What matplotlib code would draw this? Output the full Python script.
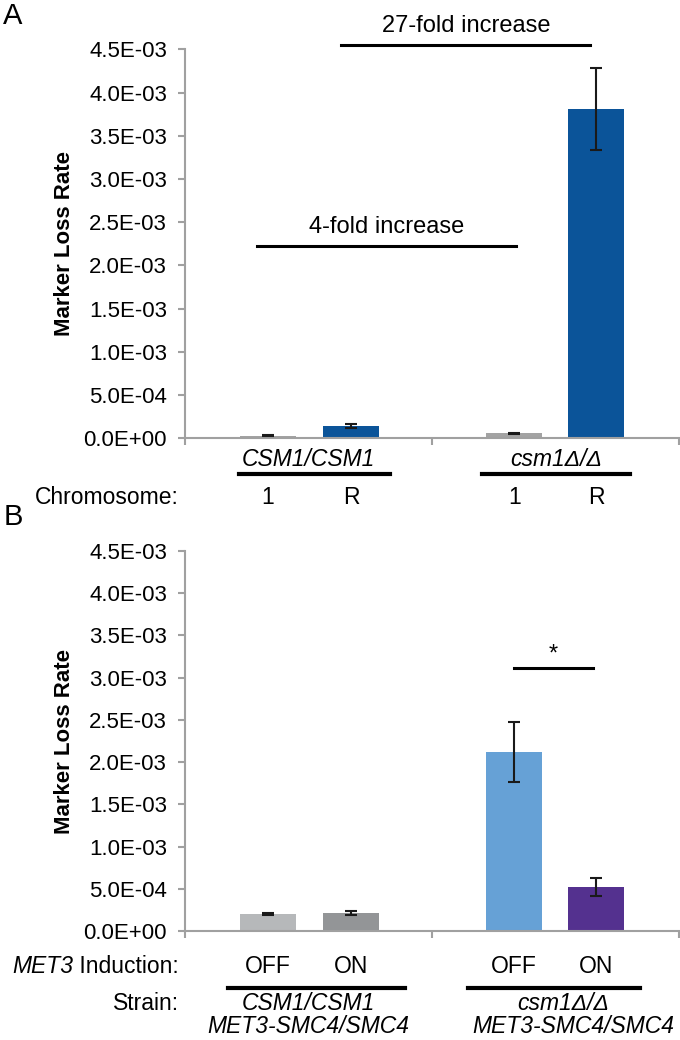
import matplotlib
matplotlib.use("Agg")
import matplotlib.pyplot as plt
from matplotlib.ticker import FuncFormatter
import matplotlib.transforms as mtransforms
from matplotlib import font_manager

plt.rcParams['font.family'] = ['Liberation Sans', 'DejaVu Sans']

# narrow face for the labels under the axes, if present
names = {f.name for f in font_manager.fontManager.ttflist}
narrow = 'Liberation Sans Narrow' if 'Liberation Sans Narrow' in names else 'Liberation Sans'
nsize = 19 if narrow == 'Liberation Sans Narrow' else 16.5

# panel A data
a_groups = ["CSM1/CSM1", "csm1\u0394/\u0394"]
a_labels = ["1", "R", "1", "R"]
a_values = [3.0e-5, 1.45e-4, 5.8e-5, 3.81e-3]
a_errors = [0.5e-5, 2.5e-5, 0.5e-5, 4.7e-4]
a_colors = ["#a3a3a3", "#0b5499", "#a3a3a3", "#0b5499"]

# panel B data
b_groups = ["CSM1/CSM1", "csm1\u0394/\u0394"]
b_labels = ["OFF", "ON", "OFF", "ON"]
b_values = [2.02e-4, 2.12e-4, 2.12e-3, 5.2e-4]
b_errors = [1.2e-5, 2.5e-5, 3.55e-4, 1.05e-4]
b_colors = ["#b6b8ba", "#939597", "#66a1d6", "#54318f"]

yticks = [0, 5e-4, 1e-3, 1.5e-3, 2e-3, 2.5e-3, 3e-3, 3.5e-3, 4e-3, 4.5e-3]
# bar positions: two bars per group, at 1/3 and 2/3 of each group
xpos = [0.336, 0.672, 1.332, 1.664]
barw = 0.227

axis_grey = "#a0a0a0"

fig = plt.figure(figsize=(6.8, 10.4), dpi=100)
ax_a = fig.add_axes([0.272, 0.5786, 0.727, 0.374])
ax_b = fig.add_axes([0.272, 0.1048, 0.727, 0.3654])


def style_axes(ax):
    ax.set_xlim(0, 2)
    ax.set_ylim(0, 4.5e-3)
    ax.set_yticks(yticks)
    ax.yaxis.set_major_formatter(FuncFormatter(lambda v, p: f"{v:.1E}"))
    ax.set_xticks([0, 1, 2])
    ax.set_xticklabels([])
    for s in ["top", "right"]:
        ax.spines[s].set_visible(False)
    for s in ["left", "bottom"]:
        ax.spines[s].set_color(axis_grey)
        ax.spines[s].set_linewidth(1.5)
    ax.tick_params(axis="both", direction="out", length=5, width=1.5,
                   color=axis_grey, labelsize=16, pad=8)
    ax.set_ylabel("Marker Loss Rate", fontsize=16, fontweight="bold", labelpad=6)


def label(ax, x, y, s, tr, italic=False, ha="center"):
    return ax.text(x, y, s, transform=tr, ha=ha, va="center", fontsize=nsize,
                   family=[narrow, 'DejaVu Sans'],
                   style="italic" if italic else "normal", clip_on=False)


# ---- panel A ----
style_axes(ax_a)
ax_a.bar(xpos, a_values, width=barw, color=a_colors, zorder=2)
ax_a.errorbar(xpos, a_values, yerr=a_errors, fmt="none", ecolor="#1a1a1a",
              elinewidth=1.5, capsize=4.5, capthick=1.5, zorder=3)

ax_a.plot([0.63, 1.64], [4.545e-3, 4.545e-3], color="black", lw=2.2, clip_on=False)
ax_a.text(1.14, 4.64e-3, "27-fold increase", ha="center", va="bottom", fontsize=17)
ax_a.plot([0.29, 1.34], [2.23e-3, 2.23e-3], color="black", lw=2.2)
ax_a.text(0.815, 2.32e-3, "4-fold increase", ha="center", va="bottom", fontsize=17)

tr_a = mtransforms.blended_transform_factory(ax_a.transData, ax_a.transAxes)
label(ax_a, 0.5, -0.055, a_groups[0], tr_a, italic=True)
label(ax_a, 1.5, -0.055, a_groups[1], tr_a, italic=True)
for x0, x1 in [(0.22, 0.83), (1.2, 1.8)]:
    ax_a.plot([x0, x1], [-0.092, -0.092], transform=tr_a, color="black",
              lw=3, clip_on=False)
for x, lab in zip(xpos, a_labels):
    label(ax_a, x, -0.152, lab, tr_a)
label(ax_a, -0.012, -0.152, "Chromosome:", ax_a.transAxes, ha="right")

# ---- panel B ----
style_axes(ax_b)
ax_b.bar(xpos, b_values, width=barw, color=b_colors, zorder=2)
ax_b.errorbar(xpos, b_values, yerr=b_errors, fmt="none", ecolor="#1a1a1a",
              elinewidth=1.5, capsize=4.5, capthick=1.5, zorder=3)

ax_b.plot([1.33, 1.65], [3.11e-3, 3.11e-3], color="black", lw=2.2)
ax_b.text(1.49, 3.14e-3, "*", ha="center", va="bottom", fontsize=17)

tr_b = mtransforms.blended_transform_factory(ax_b.transData, ax_b.transAxes)
for x, lab in zip(xpos, b_labels):
    label(ax_b, x, -0.094, lab, tr_b)
ind = label(ax_b, -0.012, -0.094, " Induction:", ax_b.transAxes, ha="right")
ax_b.annotate("MET3", xy=(0, 0.5), xycoords=ind, ha="right", va="center",
              fontsize=nsize, family=[narrow, 'DejaVu Sans'], style="italic")
for x0, x1 in [(0.174, 0.89), (1.146, 1.842)]:
    ax_b.plot([x0, x1], [-0.15, -0.15], transform=tr_b, color="black",
              lw=3, clip_on=False)
label(ax_b, -0.012, -0.191, "Strain:", ax_b.transAxes, ha="right")
label(ax_b, 0.5, -0.191, b_groups[0], tr_b, italic=True)
label(ax_b, 1.53, -0.191, b_groups[1], tr_b, italic=True)
label(ax_b, 0.5, -0.252, "MET3-SMC4/SMC4", tr_b, italic=True)
label(ax_b, 1.57, -0.252, "MET3-SMC4/SMC4", tr_b, italic=True)

fig.text(0.005, 0.985, "A", fontsize=21, ha="left", va="center")
fig.text(0.005, 0.503, "B", fontsize=21, ha="left", va="center")

fig.savefig("out.png", dpi=100)
